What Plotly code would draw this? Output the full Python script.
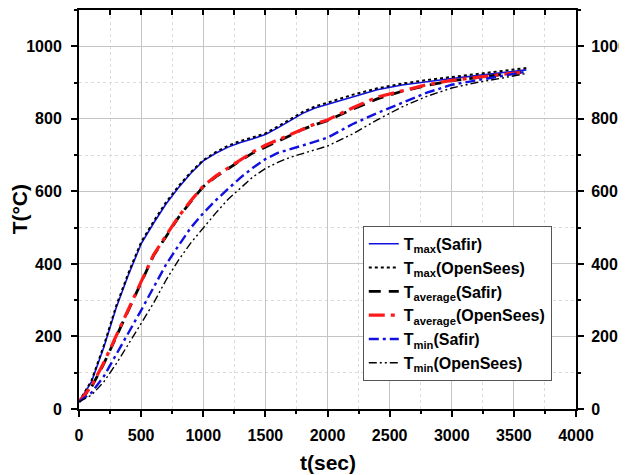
import plotly.graph_objects as go

t = [0, 100, 200, 300, 400, 500, 600, 700, 800, 900, 1000, 1100, 1200, 1300, 1400,
     1500, 1600, 1700, 1800, 1900, 2000, 2200, 2400, 2600, 2800, 3000, 3200, 3400, 3600]

tmax_safir = [20, 75, 170, 280, 372, 455, 512, 565, 610, 650, 684, 705, 722, 735, 745,
              757, 775, 795, 815, 830, 840, 862, 880, 893, 903, 911, 919, 927, 935]
tmax_opensees = [20, 78, 175, 285, 377, 460, 517, 570, 614, 653, 686, 708, 726, 739, 749,
                 760, 779, 799, 819, 834, 845, 866, 884, 897, 907, 915, 924, 932, 940]
tavg_safir = [20, 60, 125, 200, 275, 348, 423, 475, 528, 572, 613, 640, 663, 685, 706,
              723, 738, 754, 771, 784, 795, 826, 855, 876, 892, 905, 914, 922, 930]
tavg_opensees = [20, 62, 128, 203, 278, 350, 425, 478, 530, 574, 615, 642, 665, 688, 709,
                 727, 742, 757, 773, 786, 797, 830, 860, 878, 894, 906, 915, 922, 929]
tmin_safir = [20, 45, 90, 150, 210, 272, 335, 398, 450, 500, 540, 575, 607, 638, 665,
              689, 706, 716, 725, 737, 748, 785, 816, 845, 872, 894, 907, 918, 930]
tmin_opensees = [20, 38, 75, 125, 180, 235, 292, 355, 410, 458, 500, 540, 578, 610, 640,
                 663, 680, 694, 705, 715, 725, 758, 797, 833, 862, 885, 900, 912, 925]

names = ["T<sub>max</sub>(Safir)", "T<sub>max</sub>(OpenSees)", "T<sub>average</sub>(Safir)",
         "T<sub>average</sub>(OpenSees)", "T<sub>min</sub>(Safir)", "T<sub>min</sub>(OpenSees)"]

series = [tmax_safir, tmax_opensees, tavg_safir, tavg_opensees, tmin_safir, tmin_opensees]
styles = [
    dict(color="#1010e0", width=1.6, dash="solid"),
    dict(color="black", width=2, dash="dot"),
    dict(color="black", width=2.8, dash="12px,8px"),
    dict(color="#ff1a1a", width=3.2, dash="16px,6px,4px,6px"),
    dict(color="#1010e0", width=2.4, dash="10px,4px,3px,4px"),
    dict(color="black", width=1.4, dash="8px,3px,2px,3px,2px,3px"),
]

fig = go.Figure()
for name, ys, st in zip(names, series, styles):
    fig.add_trace(go.Scatter(x=t, y=ys, mode="lines", name=name, line=st))

# invisible trace to activate top and right axes
fig.add_trace(go.Scatter(x=[0], y=[0], xaxis="x2", yaxis="y2", mode="markers",
                         marker=dict(opacity=0), showlegend=False, hoverinfo="skip"))

FAM = "Arial, Liberation Sans, sans-serif"
tickfont = dict(family=FAM, size=16, color="black", weight="bold")
grid_major = "#c4c4c4"
grid_minor = "#dcdcdc"

# the page body has an 8px default margin, so the figure is sized to fill the rest
fig.update_layout(
    width=619, height=467,
    margin=dict(l=71, r=51, t=2, b=66),
    paper_bgcolor="white", plot_bgcolor="white",
    font=dict(family=FAM, color="black"),
    xaxis=dict(range=[0, 4000], dtick=500, tick0=0, showline=True, linecolor="black", linewidth=2,
               ticks="outside", ticklen=6, tickwidth=1.5, tickcolor="black", automargin=False,
               showgrid=True, gridcolor=grid_major, gridwidth=1, zeroline=False,
               tickfont=tickfont, ticklabelstandoff=5,
               minor=dict(dtick=250, ticks="outside", ticklen=3, tickcolor="black",
                          showgrid=True, gridcolor=grid_minor, griddash="dot")),
    xaxis2=dict(range=[0, 4000], dtick=500, overlaying="x", side="top", showline=True,
                linecolor="black", linewidth=2, ticks="inside", ticklen=5, tickwidth=1.5,
                tickcolor="black", showticklabels=False, showgrid=False, zeroline=False,
                automargin=False,
                minor=dict(dtick=250, ticks="inside", ticklen=5, tickcolor="black")),
    yaxis=dict(range=[0, 1100], dtick=200, tick0=0, showline=True, linecolor="black", linewidth=2,
               ticks="outside", ticklen=6, tickwidth=1.5, tickcolor="black", automargin=False,
               showgrid=True, gridcolor=grid_major, gridwidth=1, zeroline=False,
               tickfont=tickfont, ticklabelstandoff=6,
               minor=dict(dtick=100, ticks="outside", ticklen=3, tickcolor="black",
                          showgrid=True, gridcolor=grid_minor, griddash="dot")),
    yaxis2=dict(range=[0, 1100], dtick=200, tick0=0, overlaying="y", side="right", showline=True,
                linecolor="black", linewidth=2, ticks="outside", ticklen=6, tickwidth=1.5,
                tickcolor="black", showgrid=False, zeroline=False, tickfont=tickfont,
                automargin=False, ticklabelstandoff=4,
                minor=dict(dtick=100, ticks="outside", ticklen=3, tickcolor="black")),
    legend=dict(x=0.571, y=0.459, xanchor="left", yanchor="top",
                bgcolor="white", bordercolor="#555555", borderwidth=1,
                font=dict(family=FAM, size=16, color="black", weight="bold"),
                itemwidth=30, tracegroupgap=0),
    showlegend=True,
    annotations=[
        dict(text="<b>T(°C)</b>", xref="paper", yref="paper", x=-0.119, y=0.5,
             textangle=-90, showarrow=False, xanchor="center", yanchor="middle",
             font=dict(size=21, color="black", family=FAM)),
        dict(text="<b>t(sec)</b>", xref="paper", yref="paper", x=0.5, y=-0.135,
             showarrow=False, xanchor="center", yanchor="middle",
             font=dict(size=21, color="black", family=FAM)),
    ],
)

fig.write_html("out.html")
